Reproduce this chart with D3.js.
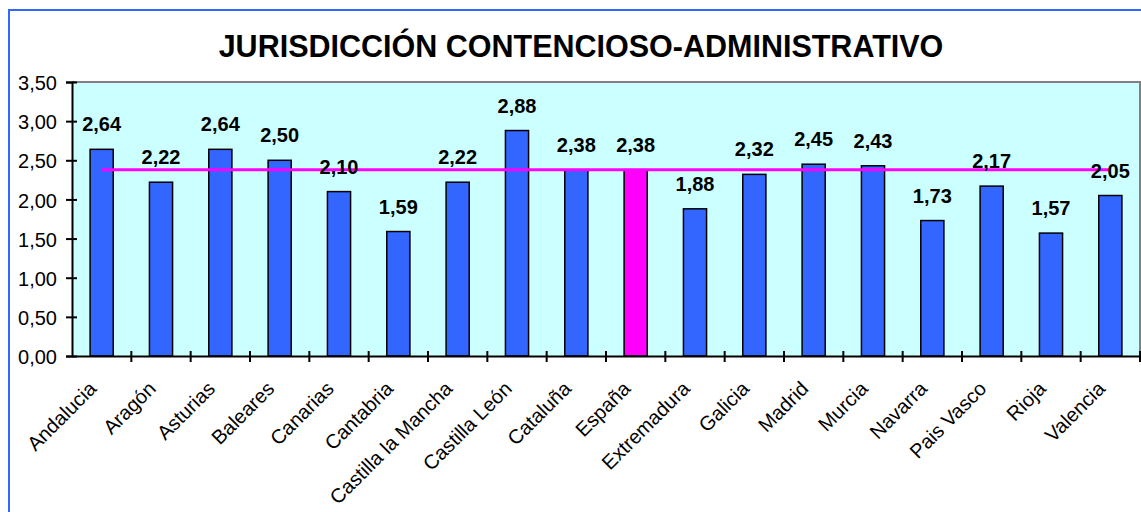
<!DOCTYPE html>
<html>
<head>
<meta charset="utf-8">
<script src="https://cdn.jsdelivr.net/npm/d3@7"></script>
<style>
  html, body { margin: 0; padding: 0; background: #fff; }
  svg { display: block; font-family: "Liberation Sans", Arial, sans-serif; }
</style>
</head>
<body>
<svg id="chart" width="1141" height="512"></svg>
<script>
// chart data
var title = "JURISDICCIÓN CONTENCIOSO-ADMINISTRATIVO";
var regions = ["Andalucia", "Aragón", "Asturias", "Baleares", "Canarias", "Cantabria",
  "Castilla la Mancha", "Castilla León", "Cataluña", "España", "Extremadura", "Galicia",
  "Madrid", "Murcia", "Navarra", "Pais Vasco", "Rioja", "Valencia"];
var values = [2.64, 2.22, 2.64, 2.50, 2.10, 1.59, 2.22, 2.88, 2.38, 2.38, 1.88, 2.32,
  2.45, 2.43, 1.73, 2.17, 1.57, 2.05];
var average = 2.38;
var highlight = "España";
var yTicks = [0, 0.5, 1, 1.5, 2, 2.5, 3, 3.5];

var svg = d3.select("#chart");
var W = 1141, H = 512;
var plot = { left: 72, right: 1140, top: 82, bottom: 356 };

var fmt = function (v) { return d3.format(".2f")(v).replace(".", ","); };

// outer frame (runs off the right/bottom edge like the original)
svg.append("rect")
  .attr("x", 9).attr("y", 10)
  .attr("width", W + 20).attr("height", H + 20)
  .attr("fill", "#fff")
  .attr("stroke", "#3366FF")
  .attr("stroke-width", 2);

svg.append("text")
  .attr("x", 581).attr("y", 56.5)
  .attr("text-anchor", "middle")
  .style("font-size", "30.5px")
  .style("font-weight", "bold")
  .text(title);

var x = d3.scaleBand()
  .domain(regions)
  .range([plot.left, plot.right])
  .paddingInner(0.61)
  .paddingOuter(0.305);

var y = d3.scaleLinear().domain([0, 3.5]).range([plot.bottom, plot.top]);

// plot background
svg.append("rect")
  .attr("x", plot.left).attr("y", plot.top)
  .attr("width", plot.right - plot.left).attr("height", plot.bottom - plot.top)
  .attr("fill", "#CCFFFF");

svg.append("path")
  .attr("d", "M" + plot.left + "," + plot.top + "H" + plot.right + "V" + plot.bottom)
  .attr("fill", "none")
  .attr("stroke", "#808080")
  .attr("stroke-width", 2);

// bars
svg.append("g").selectAll("rect")
  .data(regions)
  .enter()
  .append("rect")
  .attr("x", function (d) { return x(d); })
  .attr("y", function (d, i) { return y(values[i]); })
  .attr("width", x.bandwidth())
  .attr("height", function (d, i) { return y(0) - y(values[i]); })
  .attr("fill", function (d) { return d === highlight ? "#FF00FF" : "#3366FF"; })
  .attr("stroke", "#000")
  .attr("stroke-width", 1.5);

// average line
svg.append("line")
  .attr("x1", x(regions[0]) + x.bandwidth() / 2)
  .attr("x2", x(regions[regions.length - 1]) + x.bandwidth() / 2)
  .attr("y1", y(average)).attr("y2", y(average))
  .attr("stroke", "#FF00FF")
  .attr("stroke-width", 3);

// value labels
svg.append("g").selectAll("text")
  .data(regions)
  .enter()
  .append("text")
  .attr("x", function (d) { return x(d) + x.bandwidth() / 2; })
  .attr("y", function (d, i) { return y(values[i]) - 18; })
  .attr("text-anchor", "middle")
  .style("font-size", "20px")
  .style("font-weight", "bold")
  .text(function (d, i) { return fmt(values[i]); });

// y axis
var yAxis = svg.append("g")
  .attr("transform", "translate(" + plot.left + ",0)")
  .call(d3.axisLeft(y).tickValues(yTicks).tickFormat(fmt).tickSize(6).tickPadding(9));
yAxis.select(".domain").attr("stroke", "#000").attr("stroke-width", 2);
yAxis.selectAll(".tick line").attr("x2", 5).attr("x1", -6).attr("stroke-width", 2);
yAxis.selectAll(".tick text")
  .attr("x", -15)
  .attr("dy", "0.38em")
  .style("font-size", "20px")
  .style("font-family", "Liberation Sans, Arial, sans-serif")
  .attr("fill", "#000");

// x axis
var xAxis = svg.append("g")
  .attr("transform", "translate(0," + plot.bottom + ")")
  .call(d3.axisBottom(x).tickSize(0).tickFormat(""));
xAxis.select(".domain").attr("stroke", "#000").attr("stroke-width", 2);

// category separators as ticks
svg.append("g").selectAll("line")
  .data(regions)
  .enter()
  .append("line")
  .attr("x1", function (d) { return x(d) + x.bandwidth() / 2 + x.step() / 2; })
  .attr("x2", function (d) { return x(d) + x.bandwidth() / 2 + x.step() / 2; })
  .attr("y1", plot.bottom - 5).attr("y2", plot.bottom + 6)
  .attr("stroke", "#000")
  .attr("stroke-width", 2);

// rotated category labels
svg.append("g").selectAll("text")
  .data(regions)
  .enter()
  .append("text")
  .attr("text-anchor", "end")
  .attr("transform", function (d) {
    var cx = x(d) + x.bandwidth() / 2 - 4;
    return "translate(" + cx + ",390) rotate(-45)";
  })
  .style("font-size", "20px")
  .text(function (d) { return d; });
</script>
</body>
</html>
